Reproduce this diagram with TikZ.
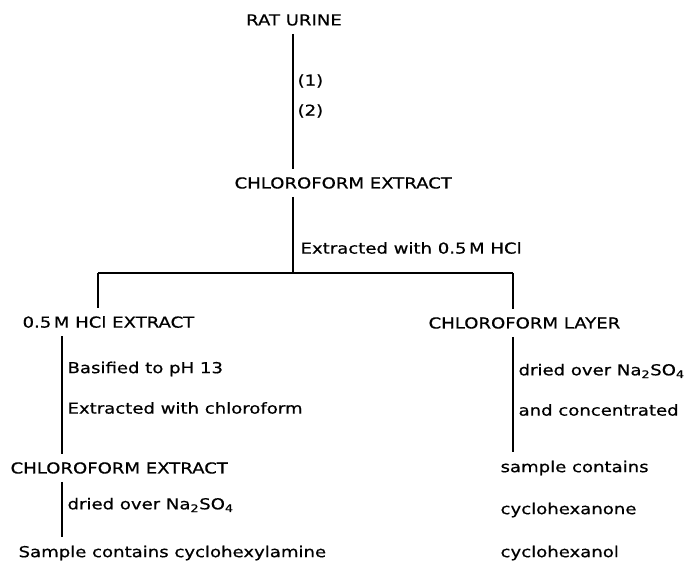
\documentclass[tikz,border=0pt]{standalone}
\usepackage{fontspec}
\setmainfont[FakeStretch=1.2, FakeBold=0.6]{DejaVu Sans}
\usetikzlibrary{positioning}
\tikzset{
  stage/.style={inner xsep=1pt, inner ysep=6pt, font=\fontsize{11.3}{13}\selectfont},
  note/.style={inner sep=1pt, anchor=west, font=\fontsize{11.3}{13}\selectfont},
  flow/.style={line width=1.2pt}
}
\begin{document}
\begin{tikzpicture}[x=0.75pt, y=-0.75pt]
\useasboundingbox (0,0) rectangle (686,580);
% main stages
\node[stage] (urine) at (294,20) {RAT URINE};
\node[stage, anchor=west] (chlA) at (233,183) {CHLOROFORM EXTRACT};
\node[stage, anchor=west] (hcl) at (21,322) {0.5\,M HCl EXTRACT};
\node[stage, anchor=west] (layer) at (427,323) {CHLOROFORM LAYER};
\node[stage, anchor=west] (chlB) at (9,468) {CHLOROFORM EXTRACT};
\node[stage, anchor=west] (sample) at (17,553) {Sample contains cyclohexylamine};
\node[stage, anchor=west] (contains) at (499,468) {sample contains};
\node[stage, anchor=west] (one) at (499,510) {cyclohexanone};
\node[stage, anchor=west] (ol) at (499,553) {cyclohexanol};
% steps
\node[note] (step1) at (296,81) {(1)};
\node[note] (step2) at (296,111) {(2)};
\node[note] (acid) at (299,248) {Extracted with 0.5\,M HCl};
\node[note] (basify) at (66,369) {Basified to pH 13};
\node[note] (back) at (66,408) {Extracted with chloroform};
\node[note] (dryL) at (66,505) {dried over Na\textsubscript{2}SO\textsubscript{4}};
\node[note] (dryR) at (517,371) {dried over Na\textsubscript{2}SO\textsubscript{4}};
\node[note] (conc) at (517,410) {and concentrated};
% branch points
\coordinate (split) at (293,273);
\coordinate (splitL) at (98,273);
\coordinate (splitR) at (513,273);
% connectors
\draw[flow] (urine.south -| split) -- (chlA.north -| split);
\draw[flow] (chlA.south -| split) -- (split);
\draw[flow] (splitL) -- (splitR);
\draw[flow] (splitL) -- (hcl.north -| splitL);
\draw[flow] (splitR) -- (layer.north -| splitR);
\draw[flow] (hcl.south -| 62,0) -- (chlB.north -| 62,0);
\draw[flow] (chlB.south -| 62,0) -- (sample.north -| 62,0);
\draw[flow] (layer.south -| splitR) -- (contains.north -| splitR);
\end{tikzpicture}
\end{document}
